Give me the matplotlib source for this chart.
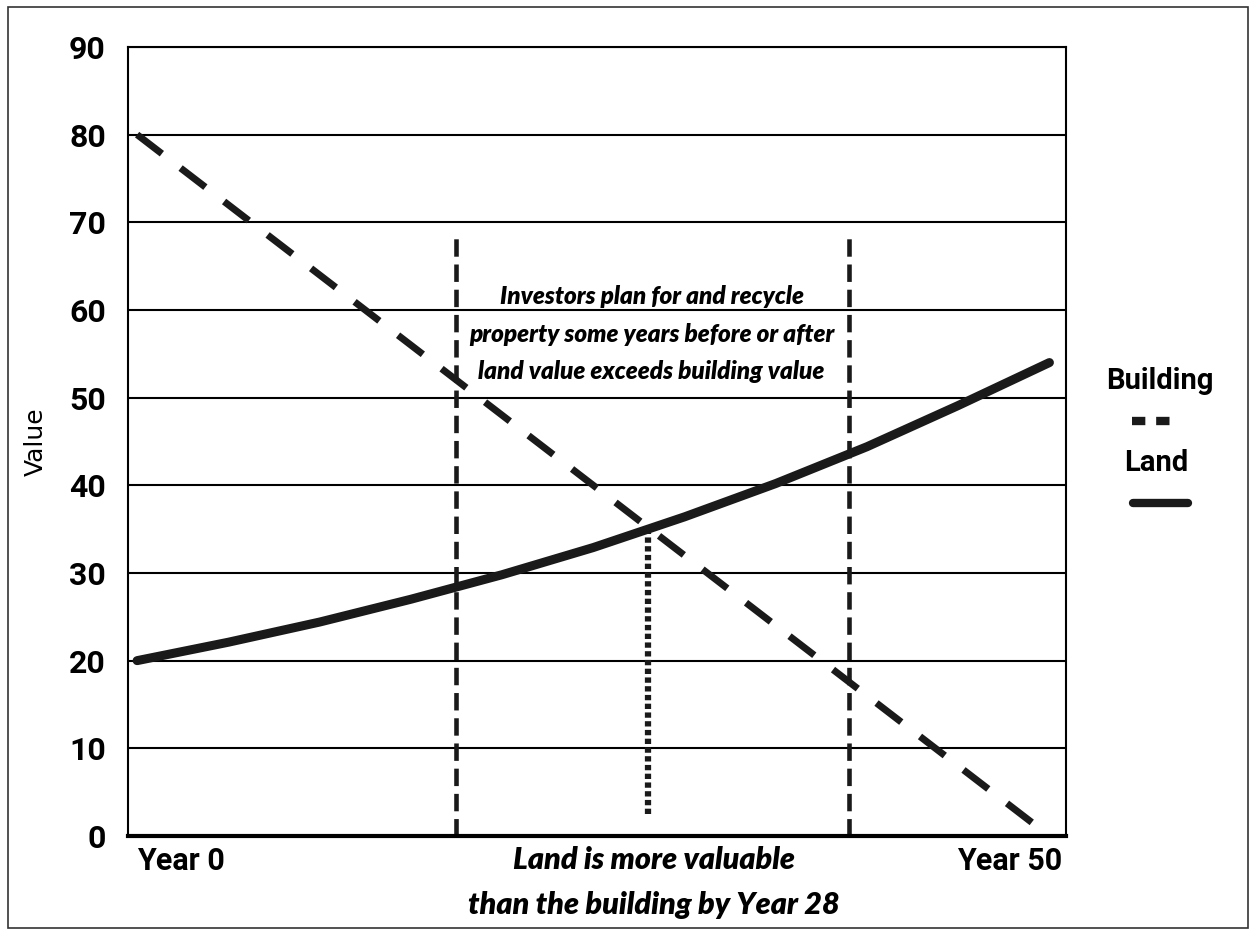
import matplotlib
matplotlib.use('Agg')
import matplotlib.pyplot as plt
from matplotlib.patches import Rectangle

# values
years = [0, 5, 10, 15, 20, 25, 30, 35, 40, 45, 50]
land = [20, 22.1, 24.4, 27.0, 29.8, 32.9, 36.4, 40.2, 44.4, 49.1, 54]
building_years = [0, 50]
building = [80, 0]
window_years = [17.5, 39]
window_top = 69
cross_year = 28
cross_value = 35
yticks = [0, 10, 20, 30, 40, 50, 60, 70, 80, 90]

narrow = ['Roboto', 'DejaVu Sans']
italic = ['Lato', 'DejaVu Sans']

fig = plt.figure(figsize=(12.51, 9.30), dpi=100)
ax = fig.add_axes([0.1023, 0.1011, 0.7497, 0.8484])

for v in yticks:
    ax.axhline(v, color='black', lw=1.5, zorder=1)

ax.plot(years, land, color='#1a1a1a', lw=6.5, solid_capstyle='round', zorder=4)
ax.plot(building_years, building, color='#1a1a1a', lw=5, dashes=(4.5, 3.4), zorder=3)

for x in window_years:
    ax.plot([x, x], [0, window_top], color='#1a1a1a', lw=3.3, dashes=(3.8, 1.7), zorder=2)
ax.plot([cross_year, cross_year], [2.5, cross_value], color='#1a1a1a', lw=4.5, dashes=(0.85, 0.55), zorder=2)

ax.set_xlim(-0.5, 50.9)
ax.set_ylim(0, 90)
ax.set_yticks(yticks)
ax.set_yticklabels([str(v) for v in yticks], family=narrow, fontweight='bold', fontsize=23)
ax.set_xticks([])
ax.tick_params(axis='y', length=0, pad=16)
for s in ['left', 'right', 'top']:
    ax.spines[s].set_linewidth(1.5)
ax.spines['bottom'].set_linewidth(3)
ax.set_ylabel('Value', fontsize=18)
ax.yaxis.set_label_coords(-0.085, 0.5)

ax.text(0.0, -1.2, 'Year 0', ha='left', va='top', family=narrow, fontweight='bold', fontsize=22)
ax.text(50.7, -1.2, 'Year 50', ha='right', va='top', family=narrow, fontweight='bold', fontsize=22)

ax.text(28.2, 62.8, 'Investors plan for and recycle\nproperty some years before or after\nland value exceeds building value',
        ha='center', va='top', family=italic, fontweight='heavy', style='italic', fontsize=17.5,
        linespacing=1.75, zorder=5)

fig.text(0.523, 0.075, 'Land is more valuable', ha='center', va='center', family=italic,
         fontweight='heavy', style='italic', fontsize=22)
fig.text(0.523, 0.027, 'than the building by Year 28', ha='center', va='center', family=italic,
         fontweight='heavy', style='italic', fontsize=22)

# legend drawn by hand on the right
fig.text(0.927, 0.590, 'Building', ha='center', va='center', family=narrow, fontweight='bold', fontsize=21)
fig.add_artist(plt.Line2D([0.905, 0.941], [0.547, 0.547], color='#1a1a1a', lw=6, dashes=(1.6, 1.3)))
fig.text(0.924, 0.502, 'Land', ha='center', va='center', family=narrow, fontweight='bold', fontsize=21)
fig.add_artist(plt.Line2D([0.906, 0.950], [0.459, 0.459], color='#1a1a1a', lw=6, solid_capstyle='round'))

fig.add_artist(Rectangle((0.0065, 0.002), 0.991, 0.990, transform=fig.transFigure,
                         fill=False, edgecolor='#333333', lw=1.2))

fig.savefig('out.png', dpi=100)
